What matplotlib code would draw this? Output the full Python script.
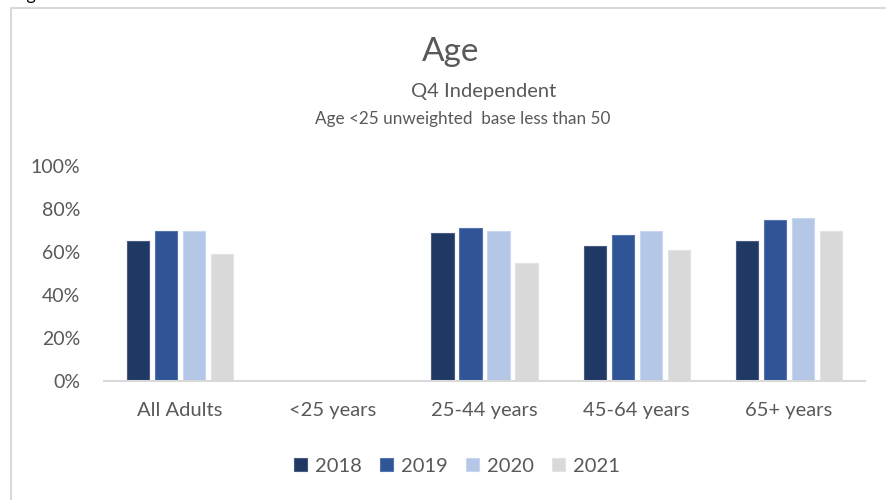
import numpy as np
import matplotlib.pyplot as plt
from matplotlib.patches import Rectangle

plt.rcParams['font.family'] = ['Lato', 'DejaVu Sans']

categories = ['All Adults', '<25 years', '25-44 years', '45-64 years', '65+ years']
years = ['2018', '2019', '2020', '2021']
v2018 = [65, np.nan, 69, 63, 65]
v2019 = [70, np.nan, 71, 68, 75]
v2020 = [70, np.nan, 70, 70, 76]
v2021 = [59, np.nan, 55, 61, 70]
yticks = [0, 20, 40, 60, 80, 100]
ytick_labels = ['0%', '20%', '40%', '60%', '80%', '100%']

colors = ['#1f3864', '#2f5597', '#b4c7e7', '#d9d9d9']
edges = ['#4a5b80', '#5575aa', '#c8d6ef', '#e3e3e3']
txt = '#595959'

fig = plt.figure(figsize=(8.86, 5), dpi=100)
W, H = 886, 500

# chart frame
fig.patches.append(Rectangle((11 / W, -0.1), 1.2, 1 - 8 / H + 0.1, transform=fig.transFigure,
                             fill=False, edgecolor='#d9d9d9', linewidth=1.5))
# caption above the chart, only its descenders fall inside the image
fig.text(12 / W, 1.0, 'Figure 6', fontsize=13, color='black', va='baseline')

ax = fig.add_axes([104 / W, 119 / H, (865 - 104) / W, (381 - 166) / H])
x = np.arange(len(categories))
step = 0.184
bw = 0.145
for i, vals in enumerate([v2018, v2019, v2020, v2021]):
    ax.bar(x + (i - 1.5) * step, vals, bw, color=colors[i], edgecolor=edges[i],
           linewidth=0.8, label=years[i])

ax.set_xlim(-0.5, len(categories) - 0.5)
ax.set_ylim(0, 100)
ax.set_yticks(yticks)
ax.set_yticklabels(ytick_labels, fontsize=14, color=txt)
ax.set_xticks(x)
ax.set_xticklabels(categories, fontsize=14.5, color=txt)
ax.tick_params(length=0)
ax.tick_params(axis='y', pad=17)
ax.tick_params(axis='x', pad=15)
for s in ['top', 'right', 'left']:
    ax.spines[s].set_visible(False)
ax.spines['bottom'].set_color('#d9d9d9')
ax.spines['bottom'].set_linewidth(1.5)

fig.text(451 / W, 1 - 52 / H, 'Age', fontsize=24, color=txt, ha='center', va='center')
fig.text(484 / W, 1 - 92 / H, 'Q4 Independent', fontsize=14.5, color=txt, ha='center', va='center')
fig.text(463 / W, 1 - 119 / H, 'Age <25 unweighted  base less than 50', fontsize=12.3,
         color=txt, ha='center', va='center')

leg = fig.legend(loc='center', bbox_to_anchor=(457 / W, 1 - 466 / H), ncol=4, frameon=False,
                 fontsize=14.5, handlelength=0.65, handleheight=0.65, handletextpad=0.4,
                 columnspacing=0.9, labelcolor=txt)

fig.savefig('out.png', dpi=100)
